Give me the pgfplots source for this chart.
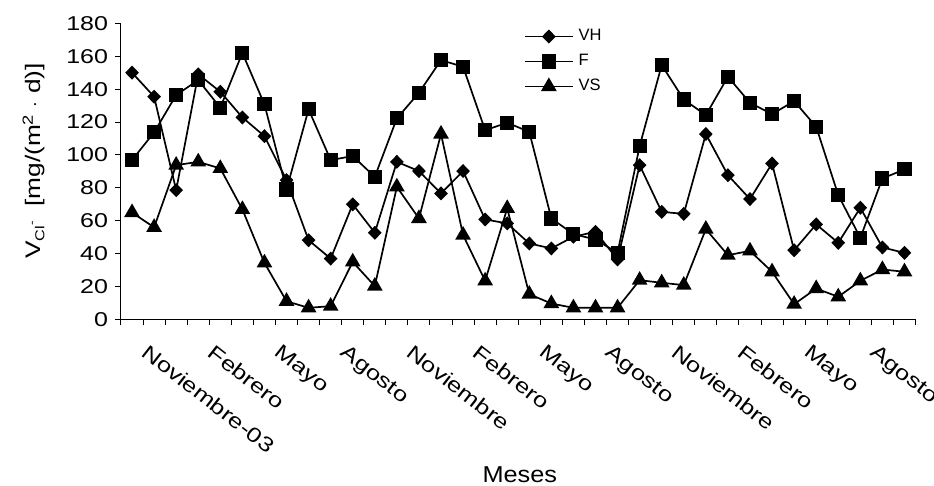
\documentclass[border=0pt]{standalone}
\usepackage{fontspec}
\setmainfont{Liberation Sans}
\newfontfamily\tickfont{Liberation Sans}[FakeStretch=1.25]
\newfontfamily\labfont{Liberation Sans}[FakeStretch=1.1]
\usepackage{pgfplots}
\usepackage{pgfplotstable}
\pgfplotsset{compat=1.18}
\pgfplotstableread{
x VH F VS
0 150 96.9 65
1 135.4 113.7 56
2 78.6 136.4 93.8
3 149 145.5 95.8
4 138.4 128.7 91.8
5 122.8 162 66.9
6 111.4 130.7 34.4
7 84.7 79 11.1
8 48.2 127.7 7.1
9 37 96.9 8.1
10 70 99.3 35
11 52.7 86.7 20.3
12 95.8 122.2 80.6
13 90.2 137.8 61.4
14 76.6 157.6 112.7
15 90.2 153.6 51.3
16 60.8 115 23.5
17 58.4 119.6 67.5
18 46.2 114 15.4
19 43.2 61.4 9.7
20 50.3 51.9 7.1
21 53.3 48.6 7.1
22 36.5 40.5 7.1
23 93.8 105.4 23.9
24 65.4 154.6 22.3
25 64.2 133.7 20.9
26 112.7 124.2 54.9
27 87.7 147.5 39.1
28 73.2 131.7 41.7
29 94.8 124.8 29
30 42.1 132.7 9.3
31 57.8 117.1 18.8
32 46.6 75.6 13.8
33 67.9 49.6 23.5
34 43.8 85.7 30.4
35 40.5 91.2 29
}\data
\begin{document}
\begin{tikzpicture}
\path[use as bounding box] (-121pt,-166.5pt) rectangle (813pt,319.5pt);
\begin{axis}[
  at={(0pt,0pt)}, anchor=south west,
  scale only axis, width=794.5pt, height=296.2pt,
  xmin=-0.5, xmax=35.5, ymin=0, ymax=180,
  axis x line=bottom, axis y line=left,
  axis line style={-, line width=1pt, black},
  ytick={0,20,...,180},
  xtick={0,3,...,33},
  xticklabels={Noviembre-03,Febrero,Mayo,Agosto,Noviembre,Febrero,Mayo,Agosto,Noviembre,Febrero,Mayo,Agosto},
  minor xtick={-0.5,0.5,...,35.5},
  tick align=outside,
  major tick length=6pt, minor tick length=6pt,
  every tick/.style={black, line width=1pt},
  every major x tick/.append style={draw=none},
  /pgf/number format/assume math mode=true,
  yticklabel style={font=\tickfont\fontsize{20}{24}\selectfont, xshift=-3.5pt},
  xticklabel style={font=\tickfont\fontsize{20.5}{24}\selectfont, anchor=north west, inner sep=0pt, xshift=17.6pt, yshift=-17.9pt, rotate=-38},
  ylabel={V\raisebox{-4pt}{\fontsize{13}{15}\selectfont Cl}\raisebox{5pt}{\fontsize{11}{13}\selectfont -}\ \ [mg/(m\textsuperscript{2} $\cdot$ d)]},
  ylabel style={font=\tickfont\fontsize{21}{25}\selectfont, at={(axis description cs:-0.11,0.535)}, anchor=center},
  xlabel={Meses},
  xlabel style={font=\labfont\fontsize{23}{27}\selectfont, at={(axis description cs:0.502,-0.524)}, anchor=center},
  legend style={draw=none, fill=none, at={(axis description cs:0.507,0.983)}, anchor=north west, inner sep=0pt, row sep=9pt, font=\fontsize{16.5}{19}\selectfont, nodes={inner sep=1pt, text height=11pt, text depth=3pt}},
  legend cell align=left,
  legend image code/.code={\draw[mark repeat=2,mark phase=2,#1] plot coordinates {(0pt,0pt) (24pt,0pt) (48pt,0pt)};},
  clip=false,
]
\addplot[black, line width=1.7pt, mark=diamond*, mark size=5.8pt, mark options={solid, xscale=1.3}] table[x=x,y=VH] {\data};
\addlegendentry{\hspace{4pt}VH}
\addplot[black, line width=1.7pt, mark=square*, mark size=6.2pt, mark options={solid}] table[x=x,y=F] {\data};
\addlegendentry{\hspace{4pt}F}
\addplot[black, line width=1.7pt, mark=triangle*, mark size=7.4pt, mark options={solid}] table[x=x,y=VS] {\data};
\addlegendentry{\hspace{4pt}VS}
\end{axis}
\end{tikzpicture}
\end{document}
